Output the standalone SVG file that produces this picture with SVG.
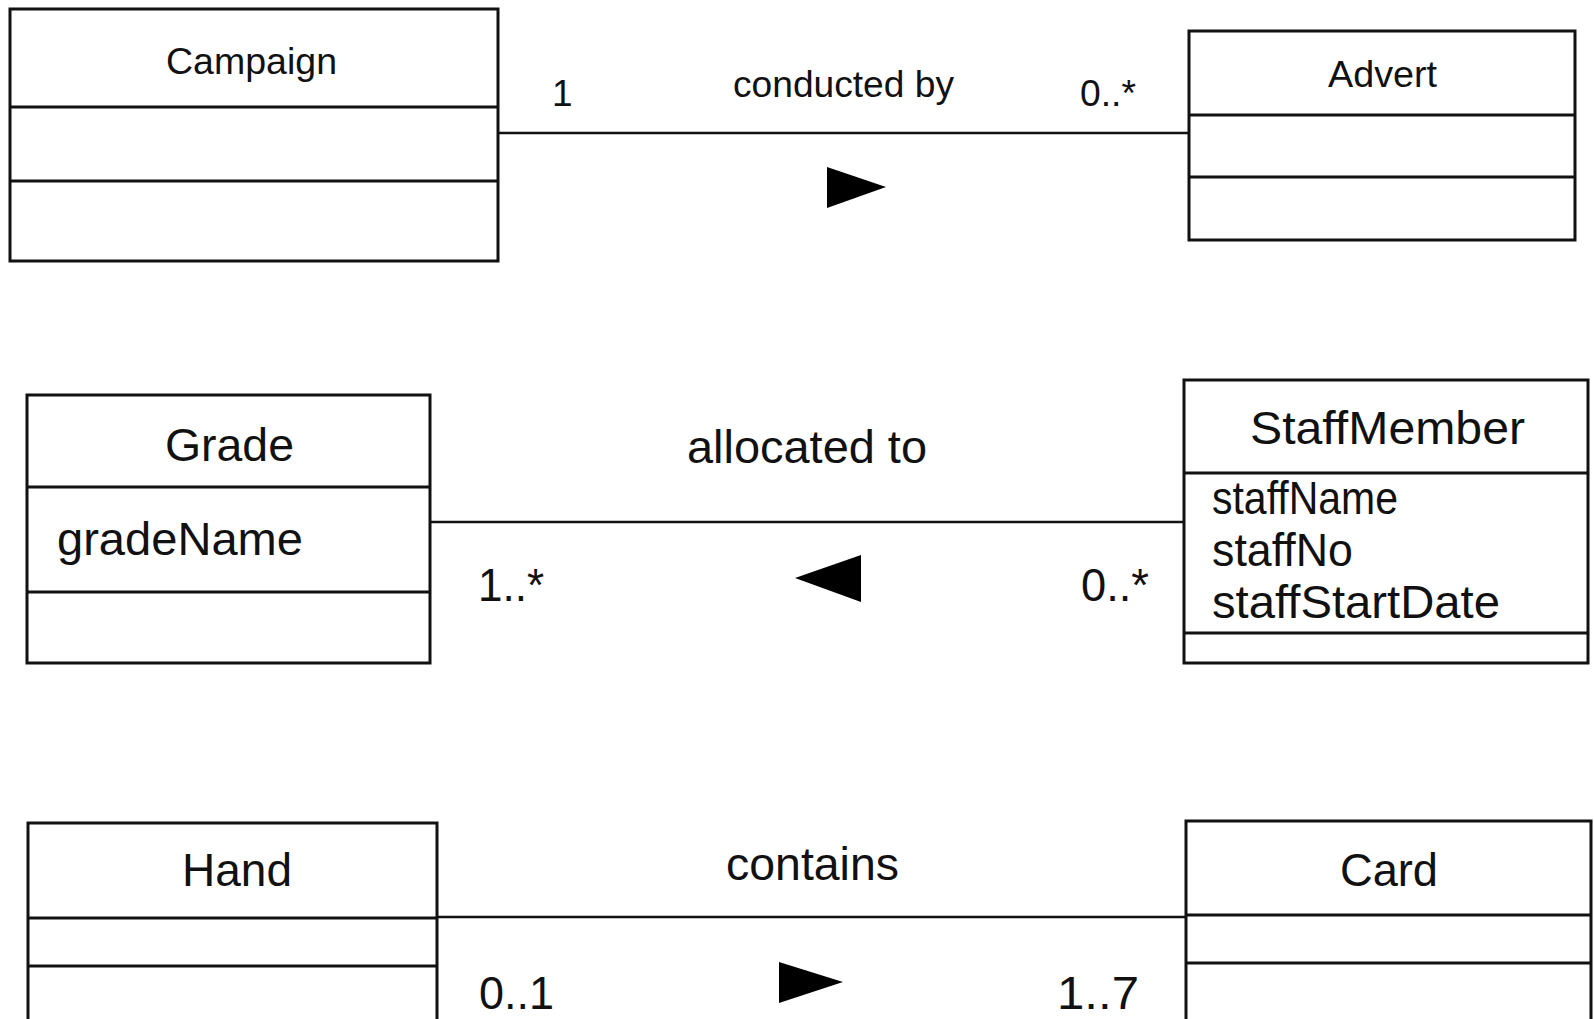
<svg xmlns="http://www.w3.org/2000/svg" width="1594" height="1019" viewBox="0 0 1594 1019">
<style>
.box{fill:#fff;stroke:#111;stroke-width:3}
.div{stroke:#111;stroke-width:3}
.con{stroke:#111;stroke-width:2.6;fill:none}
.arr{fill:#000}
text{font-family:"Liberation Sans",Arial,sans-serif;fill:#111}
.s1{font-size:37px}
.s2{font-size:46px}
</style>
<rect width="1594" height="1019" fill="#fff"/>
<g id="connectors">
<line class="con" x1="498" y1="133" x2="1189" y2="133"/>
<polygon class="arr" points="827,167 827,208 886,187"/>
<text class="s1" x="552" y="106">1</text>
<text class="s1" x="733" y="97" textLength="221" lengthAdjust="spacingAndGlyphs">conducted by</text>
<text class="s1" x="1080" y="106" textLength="56" lengthAdjust="spacingAndGlyphs">0..*</text>
<line class="con" x1="430" y1="522" x2="1184" y2="522"/>
<polygon class="arr" points="795,578 861,555 861,602"/>
<text class="s2" x="687" y="463" textLength="240" lengthAdjust="spacingAndGlyphs">allocated to</text>
<text class="s2" x="478" y="601" textLength="66" lengthAdjust="spacingAndGlyphs">1..*</text>
<text class="s2" x="1081" y="601" textLength="68" lengthAdjust="spacingAndGlyphs">0..*</text>
<line class="con" x1="437" y1="917" x2="1186" y2="917"/>
<polygon class="arr" points="779,962 779,1003 843,982"/>
<text class="s2" x="726" y="880" textLength="173" lengthAdjust="spacingAndGlyphs">contains</text>
<text class="s2" x="479" y="1009" textLength="75" lengthAdjust="spacingAndGlyphs">0..1</text>
<text class="s2" x="1057" y="1009" textLength="82" lengthAdjust="spacingAndGlyphs">1..7</text>
</g>
<g id="campaign">
<rect class="box" x="10" y="9" width="488" height="252"/>
<line class="div" x1="10" y1="107" x2="498" y2="107"/>
<line class="div" x1="10" y1="181" x2="498" y2="181"/>
<text class="s1" x="166" y="74" textLength="171" lengthAdjust="spacingAndGlyphs">Campaign</text>
</g>
<g id="advert">
<rect class="box" x="1189" y="31" width="386" height="209"/>
<line class="div" x1="1189" y1="115" x2="1575" y2="115"/>
<line class="div" x1="1189" y1="177" x2="1575" y2="177"/>
<text class="s1" x="1328" y="87" textLength="109" lengthAdjust="spacingAndGlyphs">Advert</text>
</g>
<g id="grade">
<rect class="box" x="27" y="395" width="403" height="268"/>
<line class="div" x1="27" y1="487" x2="430" y2="487"/>
<line class="div" x1="27" y1="592" x2="430" y2="592"/>
<text class="s2" x="165" y="461" textLength="129" lengthAdjust="spacingAndGlyphs">Grade</text>
<text class="s2" x="57" y="555" textLength="246" lengthAdjust="spacingAndGlyphs">gradeName</text>
</g>
<g id="staffmember">
<rect class="box" x="1184" y="380" width="404" height="283"/>
<line class="div" x1="1184" y1="473" x2="1588" y2="473"/>
<line class="div" x1="1184" y1="633" x2="1588" y2="633"/>
<text class="s2" x="1250" y="444" textLength="275" lengthAdjust="spacingAndGlyphs">StaffMember</text>
<text class="s2" x="1212" y="514" textLength="186" lengthAdjust="spacingAndGlyphs">staffName</text>
<text class="s2" x="1212" y="566" textLength="141" lengthAdjust="spacingAndGlyphs">staffNo</text>
<text class="s2" x="1212" y="618" textLength="288" lengthAdjust="spacingAndGlyphs">staffStartDate</text>
</g>
<g id="hand">
<rect class="box" x="28" y="823" width="409" height="230"/>
<line class="div" x1="28" y1="918" x2="437" y2="918"/>
<line class="div" x1="28" y1="966" x2="437" y2="966"/>
<text class="s2" x="182" y="886" textLength="110" lengthAdjust="spacingAndGlyphs">Hand</text>
</g>
<g id="card">
<rect class="box" x="1186" y="821" width="405" height="230"/>
<line class="div" x1="1186" y1="915" x2="1591" y2="915"/>
<line class="div" x1="1186" y1="963" x2="1591" y2="963"/>
<text class="s2" x="1340" y="886" textLength="98" lengthAdjust="spacingAndGlyphs">Card</text>
</g>
</svg>
